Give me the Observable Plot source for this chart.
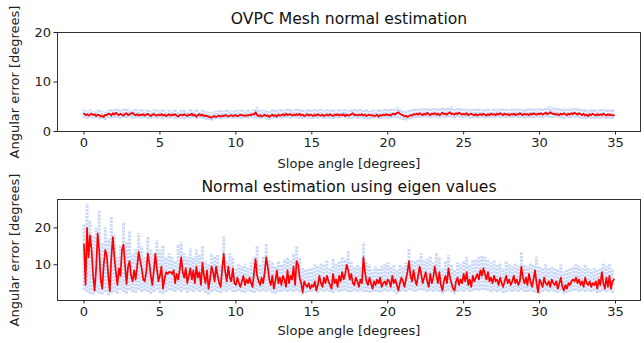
<!DOCTYPE html>
<html>
<head>
<meta charset="utf-8">
<script src="https://cdn.jsdelivr.net/npm/d3@7"></script>
<script src="https://cdn.jsdelivr.net/npm/@observablehq/plot@0.6"></script>
<style>
  html, body { margin: 0; padding: 0; background: #fff; }
  #chart { width: 644px; height: 343px; overflow: hidden; }
  #chart svg { display: block; }
</style>
</head>
<body>
<div id="chart"></div>
<script>
// ---- Data ----
const slopeStep = 0.1;      // sampling of the mean curves (degrees)
const bandStep = 0.2;       // sampling of the sample-spread bands (degrees)
const xTicks = [0, 5, 10, 15, 20, 25, 30, 35];

const titleTop = "OVPC Mesh normal estimation";
const titleBottom = "Normal estimation using eigen values";
const xLabel = "Slope angle [degrees]";
const yLabel = "Angular error [degrees]";

// Top panel: OVPC mesh mean angular error
const ovpcMean = [
  3.6,3.3,3.5,3.2,3.4,3.6,3.3,3.5,3.1,3.4,
  3.3,3.0,3.2,2.9,3.4,3.3,3.6,3.5,3.2,3.7,
  3.4,3.8,3.5,3.3,3.6,3.4,3.2,3.5,3.7,3.3,
  3.5,3.6,3.8,3.4,3.3,3.5,3.2,3.4,3.3,3.5,
  3.2,3.4,3.6,3.3,3.1,3.4,3.5,3.3,3.2,3.4,
  3.3,3.5,3.2,3.4,3.1,3.3,3.5,3.2,3.4,3.3,
  3.5,3.2,3.0,3.3,3.4,3.2,3.5,3.3,3.1,3.4,
  3.3,3.6,3.2,3.4,3.0,3.3,3.5,3.2,3.4,3.1,
  3.2,3.1,3.0,2.9,2.8,3.0,3.1,2.9,3.1,3.2,
  3.0,3.2,3.1,3.3,3.2,3.0,3.2,3.3,3.1,3.2,
  3.3,3.1,3.2,3.4,3.2,3.3,3.1,3.3,3.2,3.4,
  3.3,3.5,3.4,3.9,3.3,3.1,3.3,3.0,3.2,3.4,
  3.1,3.3,2.9,3.2,3.4,3.1,3.3,3.0,3.4,3.2,
  3.3,3.5,3.2,3.6,3.3,3.4,3.5,3.2,3.4,3.3,
  3.5,3.3,3.6,3.2,3.4,3.1,3.3,3.5,3.2,3.4,
  3.3,3.1,3.4,3.2,3.5,3.3,3.2,3.4,3.1,3.3,
  3.4,3.2,3.5,3.3,3.1,3.4,3.3,3.5,3.2,3.4,
  3.3,3.5,3.1,3.4,3.2,3.3,3.5,3.7,3.3,3.4,
  3.2,3.4,3.3,3.5,3.2,3.4,3.1,3.3,3.4,3.2,
  3.3,3.1,3.2,3.4,3.0,3.3,3.2,3.4,3.3,3.5,
  3.3,3.4,3.2,3.5,3.6,3.4,3.8,3.9,3.6,3.4,
  3.3,3.0,3.2,2.9,3.1,3.3,3.2,3.5,3.4,3.6,
  3.4,3.7,3.5,3.3,3.6,3.4,3.8,3.5,3.3,3.6,
  3.5,3.7,3.4,3.6,3.3,3.5,3.8,3.5,3.6,3.4,
  3.7,3.9,3.5,3.6,3.4,3.7,3.5,3.8,3.6,3.4,
  3.6,3.4,3.7,3.3,3.5,3.6,3.4,3.3,3.5,3.2,
  3.4,3.5,3.3,3.6,3.4,3.2,3.5,3.3,3.6,3.4,
  3.5,3.3,3.6,3.4,3.7,3.5,3.3,3.6,3.4,3.5,
  3.3,3.5,3.4,3.6,3.3,3.5,3.4,3.7,3.5,3.3,
  3.6,3.4,3.5,3.3,3.6,3.4,3.7,3.5,3.4,3.6,
  3.5,3.7,3.4,3.6,3.8,3.5,3.6,3.9,3.7,3.5,
  3.6,3.4,3.5,3.3,3.6,3.4,3.7,3.5,3.3,3.6,
  3.4,3.7,3.5,3.8,3.6,3.4,3.7,3.5,3.3,3.6,
  3.2,3.4,3.1,3.5,3.3,3.6,3.4,3.2,3.5,3.3,
  3.5,3.3,3.6,3.4,3.2,3.5,3.3,3.4,3.2,3.3
];
const ovpcHigh = [
  4.3,4.1,4.4,4.0,4.2,4.5,4.1,3.9,4.3,4.6,
  4.4,4.7,4.3,4.5,4.6,4.4,4.2,4.5,4.3,4.4,
  4.2,4.5,4.1,4.4,4.3,4.2,4.4,4.1,4.3,4.2,
  4.4,4.0,4.3,4.5,4.1,4.4,4.2,4.5,4.1,4.3,
  4.0,3.9,3.8,4.0,4.1,4.2,4.1,4.3,4.2,4.1,
  4.3,4.2,4.4,4.1,4.3,4.2,4.4,4.9,4.2,4.3,
  4.1,4.0,4.4,4.2,4.3,4.5,4.3,4.5,4.4,4.3,
  4.6,4.5,4.3,4.2,4.4,4.2,4.4,4.3,4.5,4.2,
  4.4,4.3,4.5,4.2,4.4,4.3,4.4,4.2,4.6,4.4,
  4.3,4.5,4.2,4.4,4.1,4.3,4.2,4.4,4.3,4.5,
  4.4,4.6,4.5,4.9,4.7,4.1,4.0,4.3,4.5,4.6,
  4.5,4.8,4.6,4.7,4.5,4.6,4.8,4.5,4.9,4.6,
  4.8,5.0,4.7,4.6,4.8,4.7,4.5,4.6,4.4,4.5,
  4.6,4.4,4.5,4.7,4.3,4.6,4.4,4.7,4.5,4.6,
  4.4,4.6,4.5,4.7,4.4,4.6,4.5,4.7,4.6,4.5,
  4.7,4.6,4.8,5.0,4.9,4.7,4.8,4.6,4.7,4.5,
  4.8,4.6,4.9,4.7,4.5,4.6,4.3,4.4,4.5,4.3,
  4.5,4.4,4.6,4.3,4.4
];
const ovpcLow = [
  2.6,2.5,2.7,2.4,2.6,2.3,2.5,2.2,2.6,2.5,
  2.7,2.6,2.5,2.7,2.6,2.8,2.5,2.6,2.7,2.5,
  2.6,2.4,2.5,2.7,2.5,2.6,2.4,2.6,2.5,2.7,
  2.4,2.6,2.5,2.3,2.6,2.5,2.7,2.4,2.6,2.5,
  2.3,2.2,2.1,2.3,2.4,2.3,2.5,2.4,2.6,2.5,
  2.5,2.6,2.4,2.6,2.5,2.7,2.6,2.5,2.4,2.6,
  2.3,2.2,2.5,2.4,2.6,2.5,2.7,2.6,2.5,2.7,
  2.6,2.5,2.4,2.6,2.5,2.4,2.6,2.5,2.7,2.5,
  2.6,2.5,2.4,2.6,2.5,2.7,2.6,2.5,2.4,2.6,
  2.5,2.6,2.4,2.5,2.3,2.5,2.6,2.4,2.5,2.6,
  2.5,2.6,2.7,2.6,2.5,2.2,2.1,2.3,2.5,2.6,
  2.7,2.6,2.8,2.7,2.6,2.8,2.7,2.6,2.8,2.7,
  2.8,2.7,2.6,2.8,2.7,2.6,2.8,2.5,2.6,2.7,
  2.6,2.7,2.5,2.6,2.7,2.6,2.8,2.6,2.7,2.6,
  2.7,2.6,2.8,2.6,2.7,2.5,2.6,2.7,2.6,2.8,
  2.7,2.6,2.8,2.7,2.6,2.8,2.7,2.6,2.5,2.7,
  2.6,2.8,2.7,2.6,2.5,2.4,2.6,2.5,2.4,2.6,
  2.5,2.6,2.4,2.5,2.4
];

// Bottom panel: eigen-value method mean angular error
const eigenMean = [
  15.5,4.5,20.0,12.0,18.0,14.0,7.0,3.0,9.0,18.5,
  14.0,6.0,3.5,10.0,14.0,12.5,7.0,2.8,12.0,17.5,
  12.0,8.0,4.5,9.0,7.0,14.0,15.5,10.0,4.8,9.5,
  11.0,7.0,5.5,8.5,6.0,9.5,13.5,11.0,9.0,6.0,
  5.5,8.0,13.0,10.5,7.0,4.5,8.5,13.0,9.0,5.5,
  7.0,9.5,3.5,6.0,8.0,7.5,8.0,8.0,7.5,8.5,
  5.0,7.5,6.0,8.5,12.0,8.0,6.5,9.0,5.0,7.0,
  9.0,6.0,8.5,5.0,9.5,6.5,8.0,4.5,10.5,7.0,
  5.0,8.5,3.5,6.0,9.5,8.0,5.5,9.5,7.0,5.0,
  4.0,9.0,13.0,8.0,5.5,9.5,6.5,5.5,9.0,5.0,
  4.5,6.5,5.0,4.0,5.5,7.0,4.5,6.0,5.0,6.5,
  5.0,4.0,8.0,11.5,7.0,5.5,4.5,6.5,5.0,8.0,
  12.0,9.5,6.0,4.5,7.0,3.5,5.5,8.5,5.0,6.5,
  4.5,7.0,6.0,4.0,8.5,5.0,7.0,6.0,9.5,4.5,
  11.0,10.0,6.5,5.0,2.5,5.5,4.5,4.0,5.0,3.5,
  4.5,4.0,5.5,3.0,4.5,7.0,5.0,4.0,6.5,5.0,
  7.0,5.5,4.5,3.5,7.5,5.0,6.0,4.0,7.0,5.5,
  8.0,6.0,7.5,10.0,8.5,6.0,7.5,5.0,4.5,6.5,
  5.5,4.0,6.0,5.0,12.0,8.0,5.5,4.5,6.5,5.0,
  3.5,5.5,4.5,6.0,5.0,6.5,4.0,5.0,5.5,4.5,
  6.0,5.5,4.0,7.0,5.0,6.0,4.5,3.0,5.0,6.5,
  5.5,4.0,6.0,8.0,11.0,7.0,5.5,8.5,6.0,4.5,
  7.0,9.5,7.5,5.0,6.5,8.0,5.5,4.0,7.5,5.0,
  6.5,9.5,7.0,5.0,8.0,4.5,3.0,5.5,7.0,5.0,
  9.0,6.5,5.0,3.5,3.0,5.5,6.5,4.5,6.0,5.0,
  7.5,5.5,8.0,4.5,6.0,4.0,7.0,5.5,6.5,7.5,
  6.0,8.5,7.0,9.0,7.5,6.0,8.0,5.5,6.5,5.0,
  7.0,5.5,6.0,4.5,6.5,5.0,4.0,5.5,7.0,5.0,
  6.0,4.5,5.5,7.0,5.0,6.0,4.5,5.5,9.5,6.5,
  5.0,6.5,4.5,7.5,5.5,4.0,6.0,8.5,5.0,2.5,
  6.0,5.0,4.0,6.5,5.0,4.5,5.5,4.0,6.0,5.0,
  4.5,5.5,3.5,5.0,6.5,4.0,3.0,4.5,3.5,5.0,
  4.5,5.5,6.0,5.5,6.5,5.0,6.0,4.5,5.5,4.0,
  6.5,5.0,4.5,5.5,4.0,5.0,4.5,5.5,3.5,6.0,
  4.5,8.0,5.0,3.5,6.5,4.0,7.0,3.5,5.5,6.0
];
const eigenHigh = [
  21,26.5,22,18,20,24.5,16,20,17,23,
  18,12,15,21.5,16,19,13,14,18.5,15,
  12,17.5,14,13,16.5,14,15,12,13,12,
  11,15.5,16,13,12,14.5,12,14,12.5,15,
  11,10,13,12,12.5,10,17.5,11,13,12,
  9,10,9.5,10,9,10.5,12,15,10,12,
  15.5,11,10.5,9.5,11,10,11.5,12,11,13,
  15,12,9,8.5,9,9,10,9.5,10.5,10,
  11,9,11.5,10,11,12,11.5,13.5,11,9.5,
  10,9.5,16,10.5,10,8.5,9.5,9,9.5,10,
  10.5,9.5,10,8.5,10,9.5,10.5,14.5,11,11,
  11.5,13,11,11.5,12,10.5,13,12,9,11,
  12.5,10,8.5,10.5,10,11,12,10,11,11.5,
  12,12.5,12,11.5,10.5,11,10,10.5,9,11,
  10,9.5,10.5,9.5,13.5,10,9.5,10.5,10,12,
  9.5,9,10,9,9.5,9,8.5,10,8,8.5,
  9,9.5,10,9.5,9,10,9,8.5,9,8.5,
  9,10.5,9.5,10,8.5
];
const eigenLow = [
  3,2.5,2,1.8,2.5,2,1.8,2.5,1.6,2.2,
  2.5,2,3,2.5,2,3,2.5,2.2,3,2.5,
  2.8,2.5,2,2.5,3,2.2,2,2.5,3,2.8,
  2.5,3,2.5,3,2.2,2.8,2.5,3,2.5,2.8,
  2.2,1.8,2.5,2.8,2.5,2.2,2.8,2.5,3,2.5,
  2.5,2.8,2.5,2.2,2.8,2.5,2.2,2.8,2.5,2.8,
  2.5,2.8,2.2,2,2.5,2.5,2.8,2.5,2.8,2.5,
  2.8,2.5,1.8,2.2,2.5,2.5,2.8,2.2,2.8,2.5,
  2.8,2.5,2.2,2.8,2.5,2.7,2.8,2.5,2.4,2.8,
  2.5,2.8,2.5,2.5,2.3,2.5,2.6,2.4,2.5,2.8,
  2.5,2.8,2.5,2,2.5,2.8,2.5,3,2.8,2.5,
  2.8,3,2.8,2.5,2.8,2.5,2.8,2.5,2,2.5,
  2.8,2.5,2,2.5,2.8,2.5,3,2.5,2.8,3,
  2.8,3,3,2.8,2.5,2.8,2.5,2.8,2.2,2.5,
  2.8,2.5,2.8,2.5,3,2.5,2.5,2.8,2.5,2.2,
  2,2.5,2.8,2.5,2.8,2.5,2.2,2.8,2,2.2,
  2.5,2.8,2.8,2.5,2.8,2.5,2.8,2.5,2.8,2.2,
  2.5,2.8,2.5,2.8,2.2
];

// ---- Drawing ----
const FONT = "'DejaVu Sans', sans-serif";
const xDomain = [-1.745, 36.645];

function panel({title, mean, high, low, yDomain, yTicks, height, marginTop, marginBottom, titleDy, xLabelDy}) {
  const line = mean.map((v, i) => ({x: +(i * slopeStep).toFixed(1), y: v}));
  const band = high.map((h, i) => ({x: +(i * bandStep).toFixed(1), hi: h, lo: low[i]}));
  return Plot.plot({
    width: 644,
    height,
    marginTop,
    marginBottom,
    marginLeft: 57,
    marginRight: 4,
    style: {fontFamily: FONT, fontSize: "13px", color: "#222", background: "#fff", overflow: "visible"},
    x: {domain: xDomain, ticks: xTicks, tickFormat: d => String(d), label: null, tickSize: 3.5, tickPadding: 3},
    y: {domain: yDomain, ticks: yTicks, tickFormat: d => String(d), label: null, tickSize: 3.5, tickPadding: 3},
    marks: [
      Plot.ruleX(band, {x: "x", y1: "lo", y2: "hi", stroke: "#b3c8f4", strokeOpacity: 0.7, strokeWidth: 3, strokeDasharray: "2.5,1"}),
      Plot.line(line, {x: "x", y: "y", stroke: "red", strokeWidth: 1.7}),
      Plot.frame({stroke: "#333", strokeWidth: 1}),
      Plot.text([title], {frameAnchor: "top", dy: titleDy, text: d => d, fontSize: 15.6, fill: "#111", lineAnchor: "middle", textAnchor: "middle"}),
      Plot.text([xLabel], {frameAnchor: "bottom", dy: xLabelDy, text: d => d, fontSize: 13, fill: "#222", lineAnchor: "middle", textAnchor: "middle"}),
      Plot.text([yLabel], {frameAnchor: "left", dx: -43, rotate: -90, text: d => d, fontSize: 13, fill: "#222", lineAnchor: "middle", textAnchor: "middle"})
    ]
  });
}

const topPanel = panel({
  title: titleTop, mean: ovpcMean, high: ovpcHigh, low: ovpcLow,
  yDomain: [0, 20], yTicks: [0, 10, 20],
  height: 172, marginTop: 32, marginBottom: 41, titleDy: -14, xLabelDy: 32
});
const bottomPanel = panel({
  title: titleBottom, mean: eigenMean, high: eigenHigh, low: eigenLow,
  yDomain: [0.3, 27.7], yTicks: [10, 20],
  height: 171, marginTop: 27, marginBottom: 43, titleDy: -13, xLabelDy: 30
});
const root = document.getElementById("chart");
root.appendChild(topPanel);
root.appendChild(bottomPanel);
</script>
</body>
</html>
